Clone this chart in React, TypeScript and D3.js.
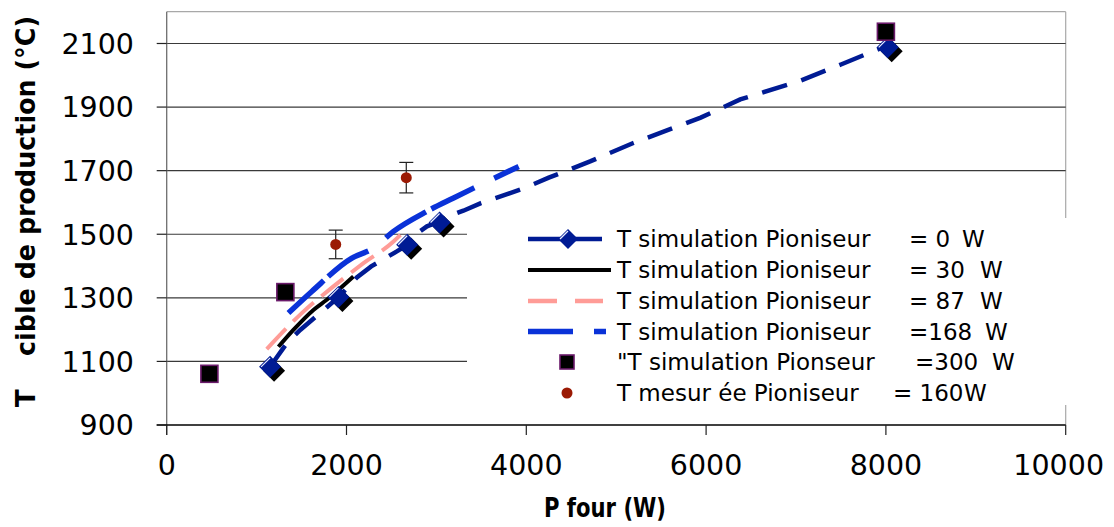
import React from "react";
import * as d3 from "d3";

// ---------- data ----------
const xTicks = [0, 2000, 4000, 6000, 8000, 10000];
const yTicks = [900, 1100, 1300, 1500, 1700, 1900, 2100];

// T simulation Pioniseur = 0 W (line path and diamond markers)
const sim0LineP = [1150, 1335, 1485, 1710, 1915, 2115, 2275, 2560, 2680, 2745, 2895, 3035, 3175, 3300, 3495, 3950, 4250, 4710, 5190, 5940, 6380, 7030, 7500, 7950, 8020];
const sim0LineT = [1083, 1157, 1199, 1253, 1303, 1364, 1399, 1446, 1467, 1495, 1525, 1540, 1561, 1574, 1598, 1642, 1678, 1729, 1787, 1867, 1924, 1981, 2034, 2086, 2090];
const sim0MarkP = [1150, 1910, 2675, 3035, 8020];
const sim0MarkT = [1083, 1303, 1467, 1537, 2088];

// = 30 W
const sim30P = [1243, 1409, 1632, 1781, 2077];
const sim30T = [1146, 1199, 1262, 1294, 1367];

// = 87 W
const sim87P = [1113, 1503, 1855, 2189, 2523, 2600];
const sim87T = [1139, 1252, 1336, 1409, 1477, 1498];

// = 168 W
const sim168P = [1354, 1614, 2060, 2300, 2523, 2894, 3191, 3414, 3915];
const sim168T = [1252, 1320, 1425, 1456, 1509, 1572, 1614, 1645, 1713];

// = 300 W
const sim300P = [475, 1320, 8000];
const sim300T = [1061, 1318, 2137];

// measured = 160 W
const measP = [1880, 2665];
const measT = [1468, 1678];
const measErr = [45, 48];

const legendLabels = [
  "T simulation Pioniseur",
  "T simulation Pioniseur",
  "T simulation Pioniseur",
  "T simulation Pioniseur",
  "\"T simulation Pionseur",
  "T mesur ée Pioniseur",
];
const legendValue = ["= 0", "= 30", "= 87", "=168", "=300", "= 160"];
const legendUnit = ["W", "W", "W", "W", "W", "W"];

// ---------- layout ----------
const W = 1114;
const H = 527;
const X0 = 166.7, X1 = 1065.7, Y0 = 425, Y1 = 11.7;
const FONT = "'DejaVu Sans', Verdana, sans-serif";

const NAVY = "#001b94";
const BLUE = "#0a32d8";
const PINK = "#ff9c97";
const RED = "#9b1a04";
const PURPLE = "#6a1a6a";

const legendRowY = [239, 270, 301, 331.5, 362, 393];
const legendValX = [909, 909, 909, 909, 915, 893];
const legendUnitX = [962, 980, 980, 985, 992, 964];

function zip(a: number[], b: number[]): [number, number][] {
  return a.map((v, i) => [v, b[i]]);
}

function Diamond({ cx, cy, r, shadow }: { cx: number; cy: number; r: number; shadow: boolean }) {
  const p = (dx: number, dy: number) =>
    `M${cx + dx},${cy + dy - r}L${cx + dx + r},${cy + dy}L${cx + dx},${cy + dy + r}L${cx + dx - r},${cy + dy}Z`;
  return (
    <g>
      {shadow && <path d={p(4, 4)} fill="#000" />}
      <path d={p(0, 0)} fill={NAVY} />
      <path
        d={`M${cx - r + 2},${cy}L${cx},${cy - r + 2}`}
        stroke="#e8ecff"
        strokeWidth={1.2}
        fill="none"
      />
    </g>
  );
}

export default function App() {
  const x = d3.scaleLinear().domain([0, 10000]).range([X0, X1]);
  const y = d3.scaleLinear().domain([900, 2200]).range([Y0, Y1]);
  const line = d3
    .line<[number, number]>()
    .x((d) => x(d[0]))
    .y((d) => y(d[1]))
    .curve(d3.curveMonotoneX);
  const lineLin = d3
    .line<[number, number]>()
    .x((d) => x(d[0]))
    .y((d) => y(d[1]));

  return (
    <svg width={W} height={H} style={{ display: "block", position: "absolute", left: 0, top: 0 }} fontFamily={FONT}>
      <rect x={0} y={0} width={W} height={H} fill="#fff" />

      {/* plot frame */}
      <line x1={X0} x2={X1} y1={Y1} y2={Y1} stroke="#a8a8a8" strokeWidth={1.2} />
      <line x1={X1} x2={X1} y1={Y1} y2={Y0} stroke="#a8a8a8" strokeWidth={1.2} />

      {/* gridlines */}
      {yTicks.filter((t) => t !== 900).map((t) => (
        <line key={"g" + t} x1={X0} x2={X1} y1={y(t)} y2={y(t)} stroke="#3a3a3a" strokeWidth={1.2} />
      ))}

      {/* axes */}
      <line x1={X0} x2={X0} y1={Y1} y2={Y0 + 10} stroke="#6e6e6e" strokeWidth={1.3} />
      <line x1={X0 - 10} x2={X1} y1={Y0} y2={Y0} stroke="#000" strokeWidth={1.3} />
      {yTicks.map((t) => (
        <line key={"yt" + t} x1={X0 - 10} x2={X0} y1={y(t)} y2={y(t)} stroke="#222" strokeWidth={1.2} />
      ))}
      {xTicks.map((t) => (
        <line key={"xt" + t} x1={x(t)} x2={x(t)} y1={Y0} y2={Y0 + 10} stroke="#222" strokeWidth={1.2} />
      ))}

      {/* tick labels */}
      {yTicks.map((t) => (
        <text key={"yl" + t} x={134} y={y(t)} dy="0.36em" textAnchor="end" fontSize={28.5} fill="#000">
          {t}
        </text>
      ))}
      {xTicks.map((t) => (
        <text key={"xl" + t} x={t === 10000 ? x(t) - 7 : x(t)} y={475} textAnchor="middle" fontSize={28.5} fill="#000">
          {t}
        </text>
      ))}

      {/* axis titles */}
      <text x={605} y={517} textAnchor="middle" fontSize={26} fontWeight="bold" textLength={122} lengthAdjust="spacingAndGlyphs">
        P four (W)
      </text>
      <g transform="translate(35,0) rotate(-90)">
        <text x={-407} y={0} fontSize={26} fontWeight="bold">T</text>
        <text x={-356} y={0} fontSize={26} fontWeight="bold" textLength={340} lengthAdjust="spacingAndGlyphs">
          cible de production (°C)
        </text>
      </g>

      {/* series lines */}
      <path d={line(zip(sim87P, sim87T)) || ""} fill="none" stroke={PINK} strokeWidth={4} strokeDasharray="28,10" />
      <path d={line(zip(sim30P, sim30T)) || ""} fill="none" stroke="#000" strokeWidth={4} />
      <path d={line(zip(sim168P, sim168T)) || ""} fill="none" stroke={BLUE} strokeWidth={5.5} strokeDasharray="48,6,48,22" />
      <path d={lineLin(zip(sim0LineP, sim0LineT)) || ""} fill="none" stroke={NAVY} strokeWidth={4.5} strokeDasharray="26,15" />

      {/* 0 W diamonds */}
      {sim0MarkP.map((p, i) => (
        <Diamond key={"d" + i} cx={x(p)} cy={y(sim0MarkT[i])} r={11} shadow={true} />
      ))}

      {/* 300 W squares */}
      {sim300P.map((p, i) => (
        <rect key={"s" + i} x={x(p) - 8.5} y={y(sim300T[i]) - 8.5} width={17} height={17} fill="#000" stroke={PURPLE} strokeWidth={1.6} />
      ))}

      {/* measured with error bars */}
      {measP.map((p, i) => {
        const cx = x(p);
        const top = y(measT[i] + measErr[i]);
        const bot = y(measT[i] - measErr[i]);
        return (
          <g key={"m" + i}>
            <line x1={cx} x2={cx} y1={top} y2={bot} stroke="#222" strokeWidth={1.2} />
            <line x1={cx - 7} x2={cx + 7} y1={top} y2={top} stroke="#222" strokeWidth={1.2} />
            <line x1={cx - 7} x2={cx + 7} y1={bot} y2={bot} stroke="#222" strokeWidth={1.2} />
            <circle cx={cx} cy={y(measT[i])} r={5.5} fill={RED} />
          </g>
        );
      })}

      {/* legend */}
      <rect x={467} y={218} width={W - 467} height={187} fill="#fff" />
      {legendLabels.map((lab, i) => {
        const ly = legendRowY[i];
        let sample: React.ReactNode = null;
        if (i === 0) {
          sample = (
            <g>
              <line x1={528} x2={602} y1={ly} y2={ly} stroke={NAVY} strokeWidth={4.5} />
              <Diamond cx={568} cy={ly} r={10} shadow={false} />
            </g>
          );
        } else if (i === 1) {
          sample = <line x1={528} x2={611} y1={ly} y2={ly} stroke="#000" strokeWidth={4} />;
        } else if (i === 2) {
          sample = <line x1={528} x2={603} y1={ly} y2={ly} stroke={PINK} strokeWidth={4.5} strokeDasharray="29,18" />;
        } else if (i === 3) {
          sample = <line x1={528} x2={607} y1={ly} y2={ly} stroke={BLUE} strokeWidth={5.5} strokeDasharray="45,21,12,21" />;
        } else if (i === 4) {
          sample = <rect x={560} y={ly - 7} width={14} height={14} fill="#000" stroke={PURPLE} strokeWidth={1.6} />;
        } else {
          sample = <circle cx={567} cy={ly} r={5.5} fill={RED} />;
        }
        return (
          <g key={"lg" + i}>
            {sample}
            <text x={617} y={ly} dy="0.36em" fontSize={23} fill="#000">{lab}</text>
            <text x={legendValX[i]} y={ly} dy="0.36em" fontSize={23} fill="#000" style={{ whiteSpace: "pre" }}>{legendValue[i]}</text>
            <text x={legendUnitX[i]} y={ly} dy="0.36em" fontSize={23} fill="#000">{legendUnit[i]}</text>
          </g>
        );
      })}
    </svg>
  );
}
